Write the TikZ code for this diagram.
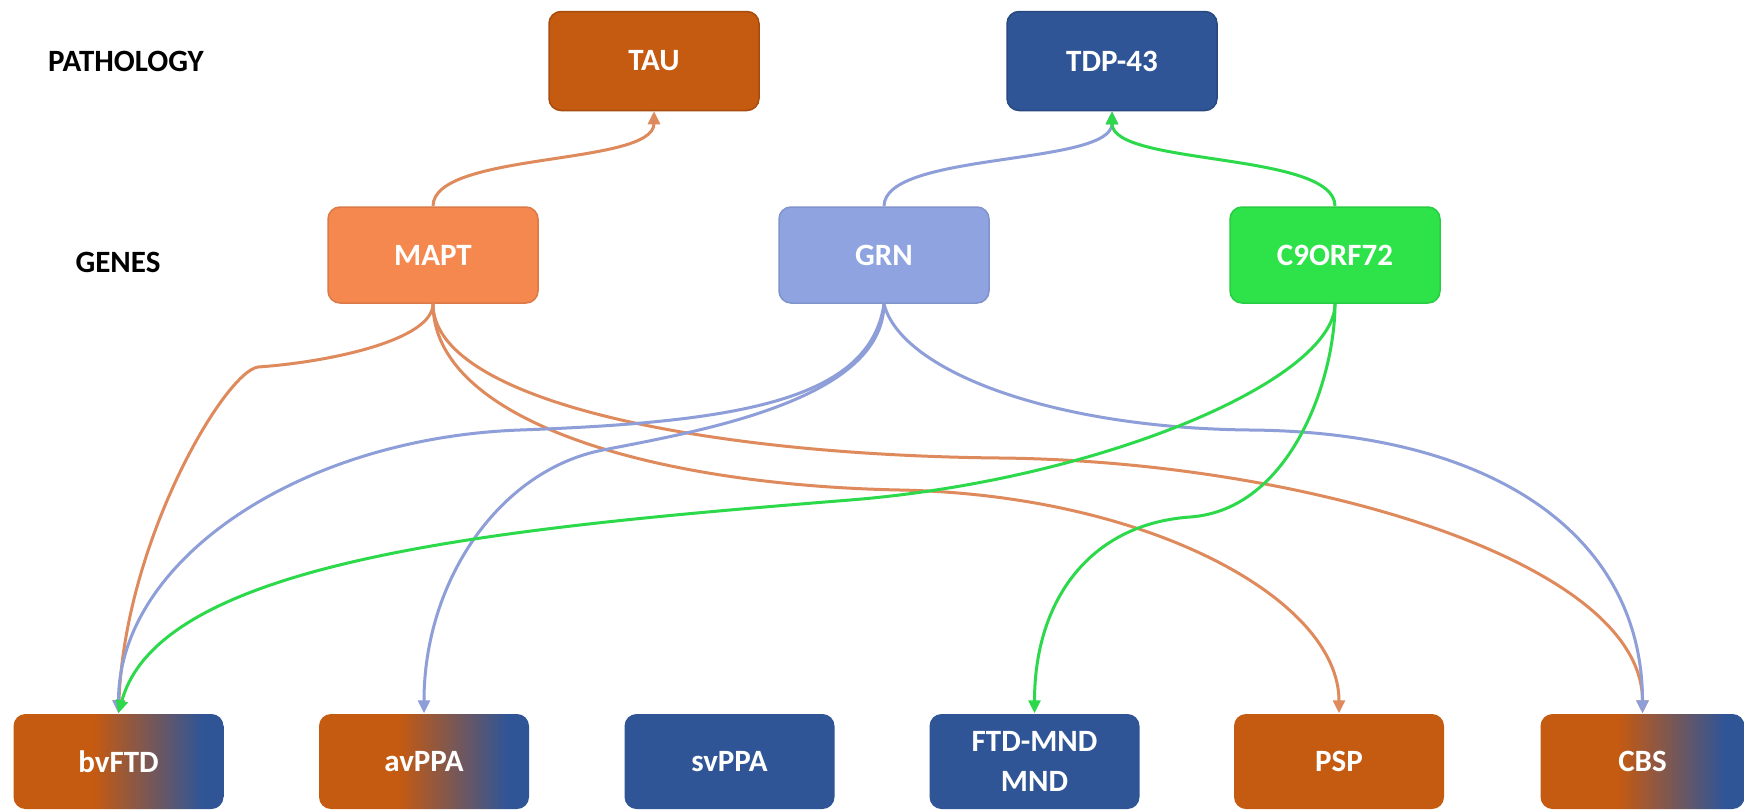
\documentclass[tikz,border=0pt]{standalone}
\usepackage{fontspec}
\setmainfont{Carlito}
\usetikzlibrary{arrows.meta}
\definecolor{tauC}{HTML}{C55A11}
\definecolor{tdpC}{HTML}{2F5597}
\definecolor{maptC}{HTML}{F4884F}
\definecolor{grnC}{HTML}{8EA3E0}
\definecolor{cnineC}{HTML}{2EE34A}
\definecolor{oLine}{HTML}{DF8A5C}
\definecolor{bLine}{HTML}{8E9ED8}
\definecolor{gLine}{HTML}{2CD94B}
\pgfdeclarehorizontalshading{obshade}{100bp}{color(0bp)=(tauC); color(44bp)=(tauC); color(70bp)=(tdpC); color(100bp)=(tdpC)}
\tikzset{
  box/.style={rectangle, rounded corners=12pt, minimum width=210pt, minimum height=96pt,
    inner sep=0pt, text=white, align=center, line width=1.5pt},
  lbl/.style={text=black, inner sep=0pt},
  conn/.style={line width=3pt, -{Triangle[length=13pt,width=12pt]}},
}
\begin{document}
\begin{tikzpicture}[x=1pt, y=-1pt, font=\fontsize{31}{40}\selectfont\bfseries]
\fill[white] (0,0) rectangle (1745,809);
\useasboundingbox (0,0) rectangle (1745,809);

\node[lbl] (pathlbl) at (126,61) {PATHOLOGY};
\node[lbl] (geneslbl) at (118,262) {GENES};

\node[box, fill=tauC, draw=tauC!85!black, minimum height=99pt] (tau) at (654,61) {TAU};
\node[box, fill=tdpC, draw=tdpC!85!black, minimum height=99pt] (tdp) at (1112,61) {TDP-43};

\node[box, fill=maptC, draw=maptC!90!black] (mapt) at (433,255) {MAPT};
\node[box, fill=grnC, draw=grnC!90!black] (grn) at (884,255) {GRN};
\node[box, fill=cnineC, draw=cnineC!90!black] (c9) at (1335,255) {C9ORF72};

\node[box, shading=obshade, minimum height=95pt] (bvftd) at (118.5,761.5) {bvFTD};
\node[box, shading=obshade, minimum height=95pt] (avppa) at (424,761.5) {avPPA};
\node[box, fill=tdpC, minimum height=95pt] (svppa) at (729.5,761.5) {svPPA};
\node[box, fill=tdpC, minimum height=95pt] (ftdmnd) at (1034.5,761.5) {FTD-MND\\MND};
\node[box, fill=tauC, minimum height=95pt] (psp) at (1339,761.5) {PSP};
\node[box, shading=obshade, minimum height=95pt, minimum width=204pt] (cbs) at (1642.5,761.5) {CBS};

% to pathology
\draw[conn, oLine] (mapt.north) .. controls +(0,-55) and +(0,55) .. (tau.south);
\draw[conn, bLine] (grn.north) .. controls +(0,-55) and +(0,55) .. (tdp.south);
\draw[conn, gLine] (c9.north) .. controls +(0,-55) and +(0,55) .. (tdp.south);

% from MAPT
\draw[conn, oLine] (mapt.south) .. controls (433,340) and (330,362) .. (258,367)
   .. controls (225,372) and (125,540) .. (bvftd.north);
\draw[conn, oLine] (mapt.south) .. controls (433,400) and (700,455) .. (1000,458)
   .. controls (1300,461) and (1642.5,560) .. (cbs.north);
\draw[conn, oLine] (mapt.south) .. controls (433,420) and (650,485) .. (900,490)
   .. controls (1150,495) and (1339,600) .. (psp.north);

% from GRN
\draw[conn, bLine] (grn.south) .. controls (870,400) and (740,422) .. (520,430)
   .. controls (300,438) and (118.5,560) .. (bvftd.north);
\draw[conn, bLine] (grn.south) .. controls (883,400) and (700,431) .. (603,450)
   .. controls (500,470) and (424,580) .. (avppa.north);
\draw[conn, bLine] (grn.south) .. controls (900,370) and (1050,428) .. (1250,430)
   .. controls (1500,432) and (1642.5,540) .. (cbs.north);

% from C9ORF72
\draw[conn, gLine] (c9.south) .. controls (1335,380) and (1100,480) .. (850,500)
   .. controls (500,528) and (160,560) .. (bvftd.north);
\draw[conn, gLine] (c9.south) .. controls (1335,380) and (1290,510) .. (1190,517)
   .. controls (1090,524) and (1034.5,600) .. (ftdmnd.north);
\end{tikzpicture}
\end{document}
